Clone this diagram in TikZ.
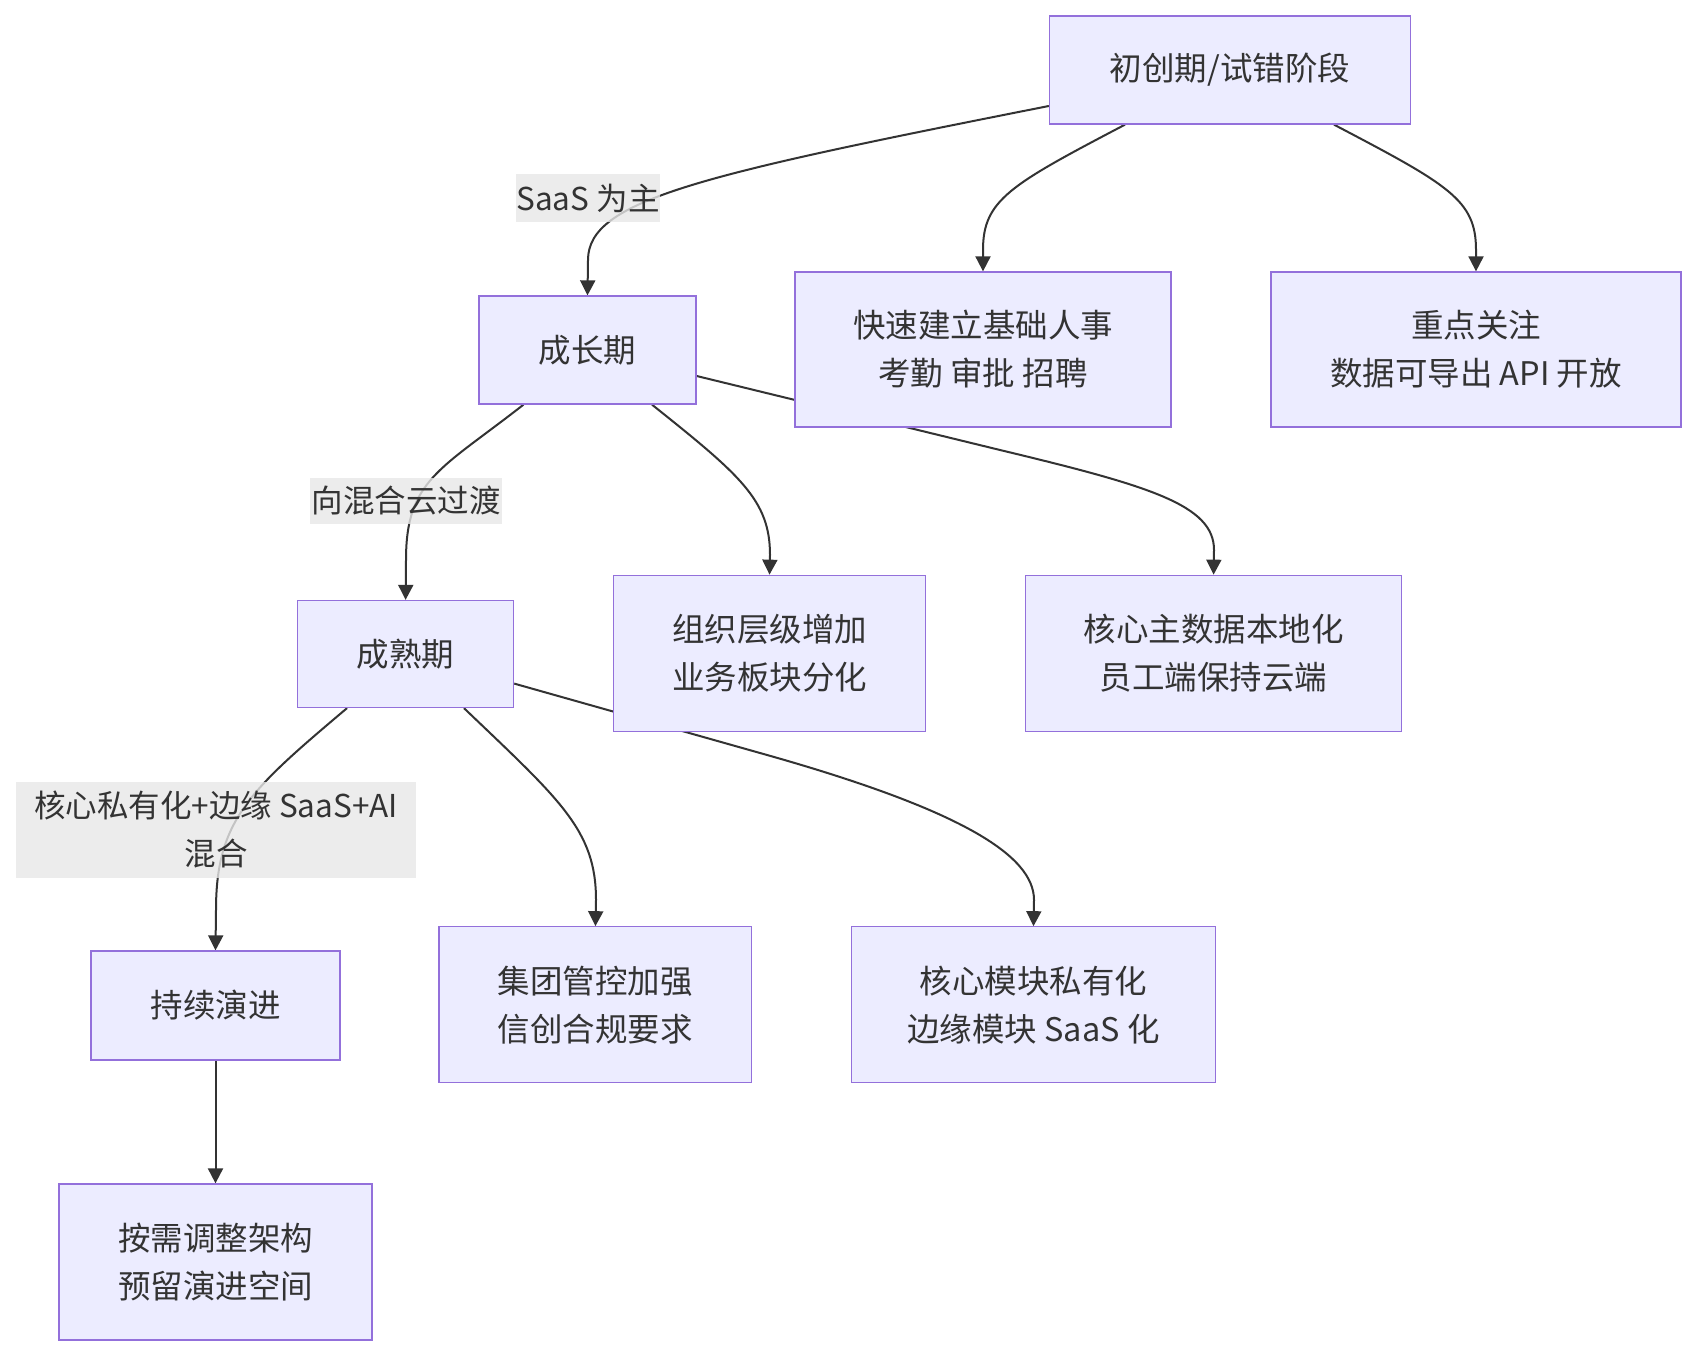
\documentclass[tikz,border=0pt]{standalone}
\usepackage{fontspec}
\setmainfont{Noto Sans CJK SC}
\usetikzlibrary{arrows.meta}
\definecolor{nodefill}{HTML}{ECECFF}
\definecolor{nodedraw}{HTML}{9370DB}
\definecolor{txt}{HTML}{333333}
\definecolor{lblfill}{HTML}{E8E8E8}
\pgfdeclarelayer{bg}
\pgfsetlayers{bg,main}
\begin{document}
\begin{tikzpicture}[x=1pt,y=-1pt,
  box/.style={draw=nodedraw, fill=nodefill, line width=1.3pt, text=txt, align=center,
    inner sep=0pt, font=\fontsize{32.5}{48}\selectfont},
  lbl/.style={fill=lblfill, fill opacity=0.8, text opacity=1, text=txt, align=center,
    inner sep=0pt, font=\fontsize{31.5}{48}\selectfont},
  edge/.style={draw=txt, line width=2pt, -{Triangle[length=15pt,width=15pt]}}]
\useasboundingbox (0,0) rectangle (1696,1356);
% nodes
\node[box, minimum width=361pt, minimum height=108pt] (A) at (1230,70) {初创期/试错阶段};
\node[box, minimum width=217pt, minimum height=108pt] (B) at (587.5,350) {成长期};
\node[box, minimum width=376pt, minimum height=155pt] (C) at (983,349.5) {快速建立基础人事\\考勤 审批 招聘};
\node[box, minimum width=410pt, minimum height=155pt] (D) at (1476,349.5) {重点关注\\数据可导出 API 开放};
\node[box, minimum width=216pt, minimum height=107pt] (E) at (405.6,654) {成熟期};
\node[box, minimum width=312.5pt, minimum height=156pt] (F) at (769.5,653.3) {组织层级增加\\业务板块分化};
\node[box, minimum width=376pt, minimum height=156pt] (G) at (1213.6,653.3) {核心主数据本地化\\员工端保持云端};
\node[box, minimum width=249pt, minimum height=109pt] (H) at (215.5,1005.5) {持续演进};
\node[box, minimum width=312.6pt, minimum height=156pt] (I) at (595.4,1004.8) {集团管控加强\\信创合规要求};
\node[box, minimum width=364.5pt, minimum height=156pt] (J) at (1033.5,1004.8) {核心模块私有化\\边缘模块 SaaS 化};
\node[box, minimum width=313pt, minimum height=156pt] (K) at (215.5,1262) {按需调整架构\\预留演进空间};
% edge labels
\node[lbl, minimum width=138pt, minimum height=48pt] (L1) at (588,198) {SaaS 为主};
\node[lbl, minimum width=191.5pt, minimum height=46.5pt] (L2) at (406,501) {向混合云过渡};
\node[lbl, minimum width=400pt, minimum height=96pt] (L3) at (216,830) {核心私有化+边缘 SaaS+AI\\混合};
% edges
\begin{pgfonlayer}{bg}
\fill[white] (0,0) rectangle (1696,1356);
\draw[edge] ([yshift=-36pt]A.west) .. controls (700,175) and (588,200) .. (588,260) -- (B.north);
\draw[edge] ([xshift=-105pt]A.south) .. controls (1010,185) and (983,200) .. (983,250) -- (C.north);
\draw[edge] ([xshift=104pt]A.south) .. controls (1449,185) and (1476,200) .. (1476,250) -- (D.north);
\draw[edge] ([xshift=-64pt]B.south) .. controls (440,470) and (406,480) .. (406,560) -- (E.north);
\draw[edge] ([xshift=64.5pt]B.south) .. controls (740,475) and (770,500) .. (770,555) -- (F.north);
\draw[edge] ([yshift=-26pt]B.east) -- (1000,450) .. controls (1150,486) and (1214,505) .. (1214,550) -- (G.north);
\draw[edge] ([xshift=-58.6pt]E.south) .. controls (250,790) and (216,820) .. (216,910) -- (H.north);
\draw[edge] ([xshift=58.4pt]E.south) .. controls (560,800) and (596,830) .. (596,900) -- (I.north);
\draw[edge] ([yshift=-29.6pt]E.east) -- (760,753) .. controls (960,809) and (1034,855) .. (1034,900) -- (J.north);
\draw[edge] (H.south) -- (K.north);
\end{pgfonlayer}
\end{tikzpicture}
\end{document}
